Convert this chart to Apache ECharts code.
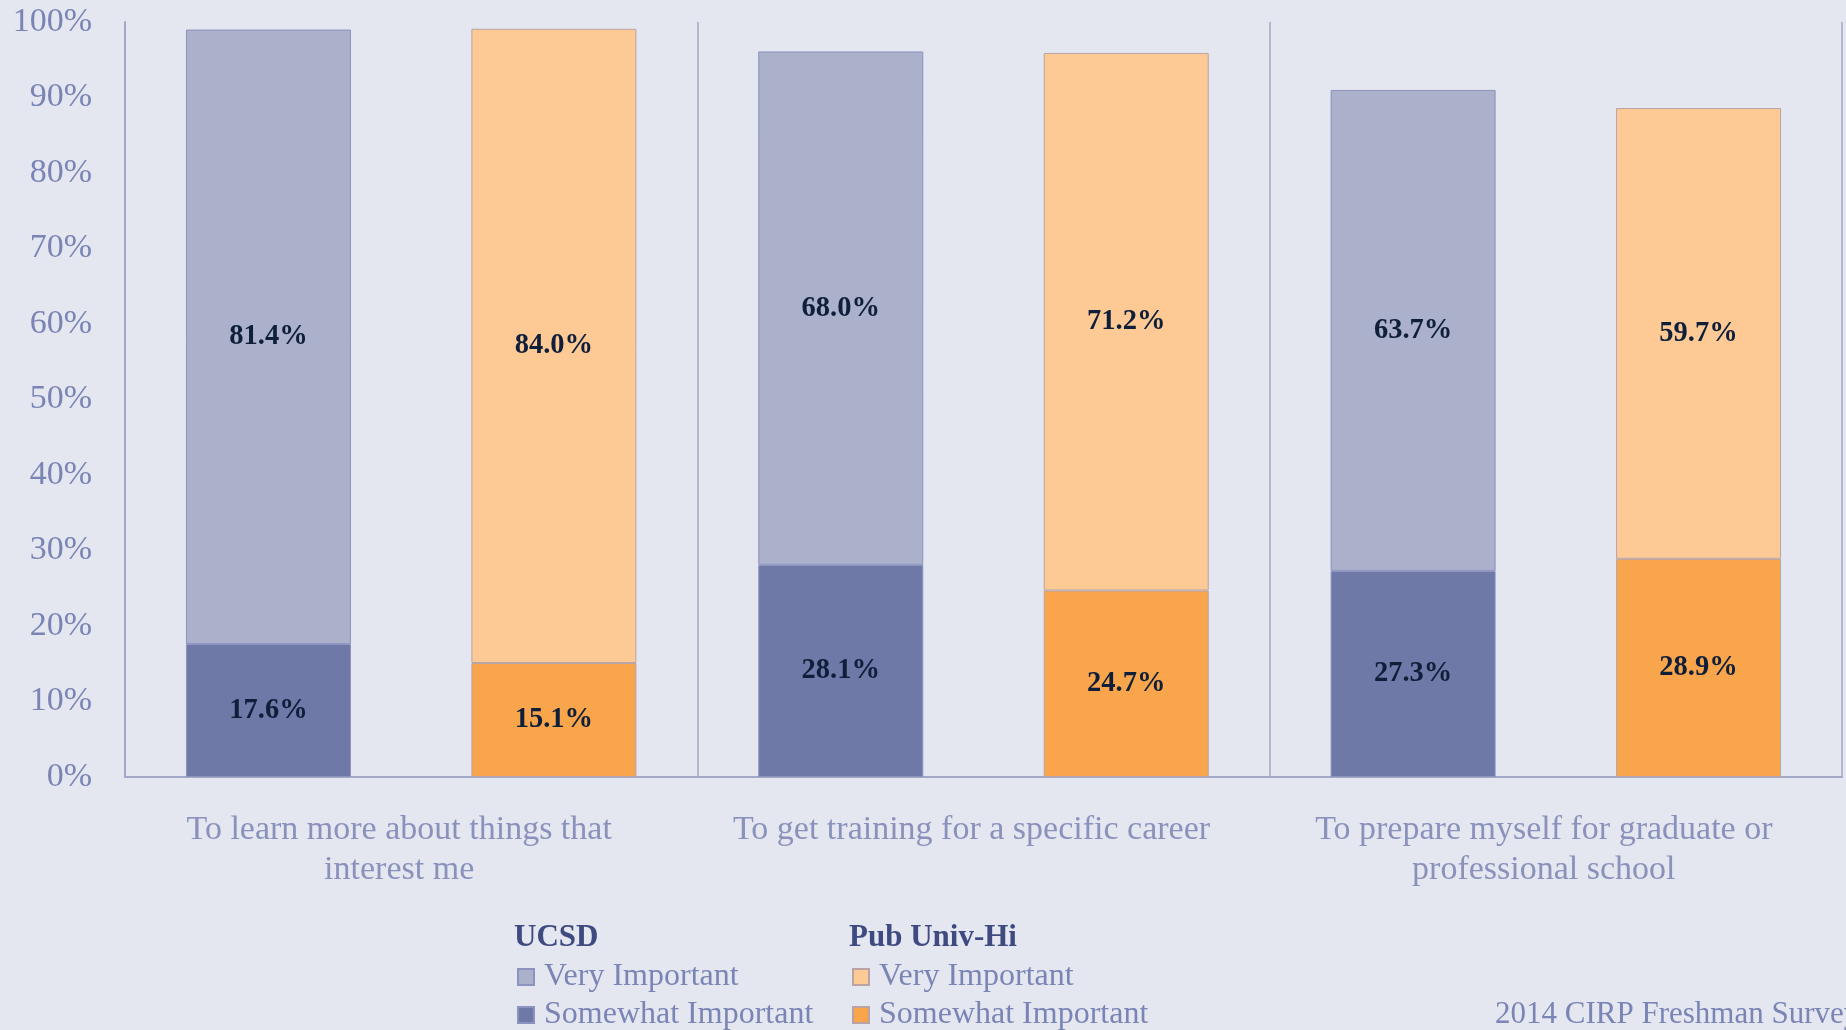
<!DOCTYPE html>
<html>
<head>
<meta charset="utf-8">
<script src="https://cdn.jsdelivr.net/npm/echarts@6/dist/echarts.min.js"></script>
<style>
	html, body { margin: 0; padding: 0; background: #E4E7F0; }
	#chart { width: 1846px; height: 1030px; }
</style>
</head>
<body>
<div id="chart"></div>
<script>
var categories = [
	'To learn more about things that\ninterest me',
	'To get training for a specific career',
	'To prepare myself for graduate or\nprofessional school'
];
var ucsdSomewhat = [17.6, 28.1, 27.3];
var ucsdVery = [81.4, 68.0, 63.7];
var pubSomewhat = [15.1, 24.7, 28.9];
var pubVery = [84.0, 71.2, 59.7];

var serif = '"Liberation Serif", "DejaVu Serif", serif';

function bar(name, stack, values, color, border) {
	return {
		name : name,
		type : 'bar',
		stack : stack,
		data : values,
		barWidth : 165,
		barGap : '73%',
		itemStyle : {
			color : color,
			borderColor : border,
			borderWidth : 1
		},
		label : {
			show : true,
			position : 'inside',
			formatter : function(p) { return p.value.toFixed(1) + '%'; },
			color : '#0F1F3A',
			fontFamily : serif,
			fontWeight : 'bold',
			fontSize : 28.5
		}
	};
}

// one legend per row, so the rows sit exactly where they should
function legendRow(left, top, name) {
	return {
		left : left,
		top : top,
		padding : 0,
		icon : 'rect',
		itemWidth : 16,
		itemHeight : 16,
		data : [ name ],
		formatter : function(n) { return n.split('|')[1]; },
		textStyle : { fontFamily : serif, fontSize : 32, color : '#7A84B5', padding : [0, 0, 0, 5] }
	};
}

var myChart = echarts.init(document.getElementById('chart'));
var option = {
	backgroundColor : '#E4E7F0',
	animation : false,
	grid : {
		left : 125,
		right : 4,
		top : 22,
		bottom : 253
	},
	xAxis : {
		type : 'category',
		data : categories,
		axisTick : { show : false },
		axisLine : { lineStyle : { color : '#A3A8C7', width : 2 } },
		splitLine : { show : true, interval : 0, lineStyle : { color : '#A3A8C7', width : 1.5 } },
		axisLabel : {
			interval : 0,
			margin : 33,
			fontFamily : serif,
			fontSize : 34,
			lineHeight : 40,
			color : '#8A92BC',
			padding : [0, 24, 0, 0]
		}
	},
	yAxis : {
		type : 'value',
		min : 0,
		max : 100,
		interval : 10,
		axisLine : { show : true, lineStyle : { color : '#A3A8C7', width : 2 } },
		axisTick : { show : false },
		splitLine : { show : false },
		axisLabel : {
			formatter : '{value}%',
			margin : 33,
			fontFamily : serif,
			fontSize : 34,
			color : '#7A84B5'
		}
	},
	legend : [
		legendRow(517, 961, 'UCSD|Very Important'),
		legendRow(517, 999, 'UCSD|Somewhat Important'),
		legendRow(852, 961, 'Pub Univ-Hi|Very Important'),
		legendRow(852, 999, 'Pub Univ-Hi|Somewhat Important')
	],
	graphic : [ {
		type : 'text',
		left : 514,
		top : 922,
		style : { text : 'UCSD', font : 'bold 31px ' + serif, fill : '#3F4B80' }
	}, {
		type : 'text',
		left : 849,
		top : 922,
		style : { text : 'Pub Univ-Hi', font : 'bold 31px ' + serif, fill : '#3F4B80' }
	}, {
		type : 'text',
		left : 1495,
		top : 999,
		style : { text : '2014 CIRP Freshman Survey', font : '31px ' + serif, fill : '#7A84B5' }
	} ],
	series : [
		bar('UCSD|Somewhat Important', 'ucsd', ucsdSomewhat, '#6E79A8', '#8C93BE'),
		bar('UCSD|Very Important', 'ucsd', ucsdVery, '#ABB0CB', '#8C93BE'),
		bar('Pub Univ-Hi|Somewhat Important', 'pub', pubSomewhat, '#F8A54B', '#B9A3A6'),
		bar('Pub Univ-Hi|Very Important', 'pub', pubVery, '#FDC995', '#B9A3A6')
	]
};
myChart.setOption(option);
</script>
</body>
</html>
